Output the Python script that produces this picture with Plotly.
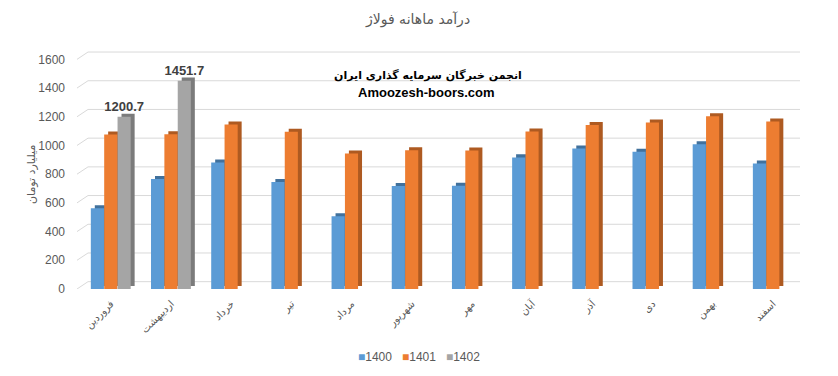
import plotly.graph_objects as go

months = ["فروردین", "اردیبهشت", "خرداد", "تیر", "مرداد", "شهریور",
          "مهر", "آبان", "آذر", "دی", "بهمن", "اسفند"]
y1400 = [562, 766, 882, 745, 507, 717, 720, 917, 979, 956, 1009, 875]
y1401 = [1076, 1078, 1146, 1095, 944, 967, 965, 1097, 1143, 1160, 1203, 1167]
y1402 = [1200.7, 1451.7, None, None, None, None, None, None, None, None, None, None]
series_names = ["1400", "1401", "1402"]
y_ticks = [0, 200, 400, 600, 800, 1000, 1200, 1400, 1600]

front_colors = ["#5B9BD5", "#ED7D31", "#A5A5A5"]
side_colors = ["#41719C", "#AE5A21", "#7B7B7B"]
offsets = [-0.333, -0.111, 0.111]
bw = 0.218
depth_x = 0.066
depth_y = 21

W, H = 838, 376
L, R, T, B = 88, 38, 45, 87
PW, PH = W - L - R, H - T - B

series = [y1400, y1401, y1402]
fig = go.Figure()

# depth (side/top faces)
for vals, col, off in zip(series, side_colors, offsets):
    fig.add_trace(go.Bar(x=months, y=vals, base=depth_y, offset=off + depth_x, width=bw,
                         marker=dict(color=col, line=dict(width=0)),
                         showlegend=False, hoverinfo="skip"))

# front faces
for name, vals, col, off in zip(series_names, series, front_colors, offsets):
    txt = [(f"{v}" if (v is not None and name == "1402") else "") for v in vals]
    fig.add_trace(go.Bar(x=months, y=vals, name=name, offset=off, width=bw,
                         marker=dict(color=col, line=dict(width=0)),
                         text=txt, textposition="outside", cliponaxis=False,
                         constraintext="none", textangle=0,
                         textfont=dict(family="Liberation Sans", size=13, color="#404040"),
                         texttemplate="<b>%{text}</b>", showlegend=False))

shapes = []
for v in y_ticks:
    shapes.append(dict(type="line", xref="paper", yref="y", x0=-11 / PW, x1=0, y0=v, y1=v + 51,
                       line=dict(color="#D9D9D9", width=1), layer="below"))
    shapes.append(dict(type="line", xref="paper", yref="y", x0=0, x1=1, y0=v + 51, y1=v + 51,
                       line=dict(color="#D9D9D9", width=1), layer="below"))

legend_html = "   ".join(
    f"<span style='color:{c}'>■</span><span style='color:#595959'>{n}</span>"
    for n, c in zip(series_names, front_colors))


def px(xp):
    return (xp - L) / PW


def py(yp):
    return (H - B - yp) / PH


fig.update_layout(
    width=W, height=H,
    margin=dict(l=L, r=R, t=T, b=B, autoexpand=False),
    paper_bgcolor="white", plot_bgcolor="white",
    barmode="overlay",
    shapes=shapes,
    showlegend=False,
    xaxis=dict(range=[-0.38, 11.45], tickangle=-45, showgrid=False, showline=False, zeroline=False,
               automargin=False, ticklabelstandoff=6,
               tickfont=dict(family="DejaVu Sans", size=10, color="#595959")),
    yaxis=dict(range=[0, 1700], tickvals=y_ticks, showgrid=False, zeroline=False, showline=False,
               ticklabelstandoff=22, automargin=False,
               tickfont=dict(family="Liberation Sans", size=12, color="#595959")),
    annotations=[
        dict(text="درآمد ماهانه فولاژ", xref="paper", yref="paper",
             x=px(417), y=py(20), xanchor="center", yanchor="middle", showarrow=False,
             font=dict(family="DejaVu Sans", size=14, color="#595959")),
        dict(text="میلیارد تومان", xref="paper", yref="paper", textangle=-90,
             x=px(31), y=py(175), xanchor="center", yanchor="middle", showarrow=False,
             font=dict(family="DejaVu Sans", size=11, color="#595959")),
        dict(text="<b>انجمن خبرگان سرمایه گذاری ایران</b>", xref="paper", yref="paper",
             x=px(428), y=py(75), xanchor="center", yanchor="middle",
             showarrow=False, font=dict(family="DejaVu Sans", size=11, color="#000000")),
        dict(text="<b>Amoozesh-boors.com</b>", xref="paper", yref="paper",
             x=px(426), y=py(92), xanchor="center", yanchor="middle",
             showarrow=False, font=dict(family="Liberation Sans", size=13, color="#000000")),
        dict(text=legend_html, xref="paper", yref="paper",
             x=px(419), y=py(357), xanchor="center", yanchor="middle",
             showarrow=False, font=dict(family="Liberation Sans", size=12, color="#595959")),
    ],
)

fig.write_html("out.html", post_script="document.body.style.margin='0';",
               config={"displayModeBar": False})
